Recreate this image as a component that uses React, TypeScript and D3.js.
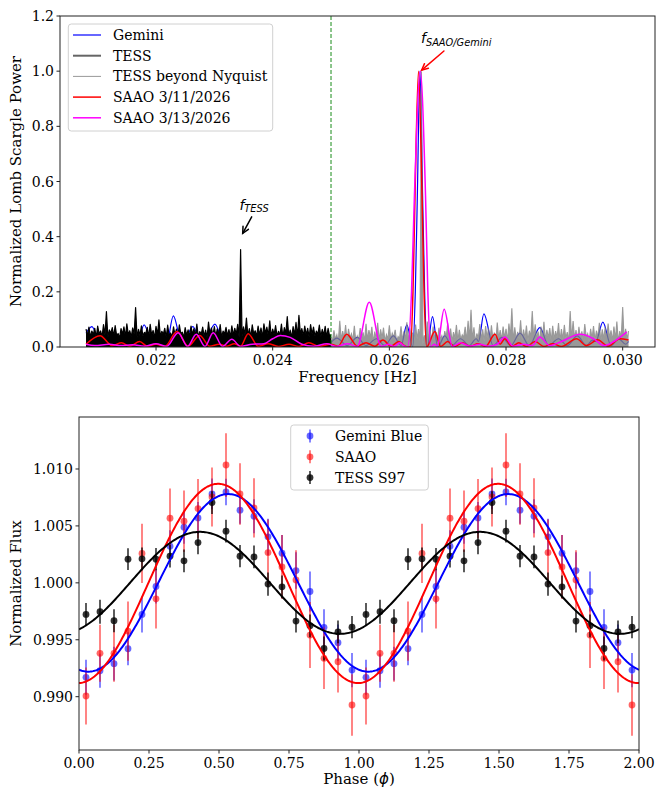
import React from "react";
import * as d3 from "d3";

// ---------- top panel: Lomb-Scargle periodograms ----------
// TESS (below Nyquist): top edge of the dense periodogram, power x 1000, uniform frequency grid
const tessF0 = 0.0208;
const tessStep = 0.000025;
const tessPower = [
  65, 40, 72, 36, 58, 45, 68, 34, 76, 48,
  58, 37, 81, 43, 128, 35, 62, 50, 70, 39,
  78, 41, 49, 32, 67, 46, 73, 38, 84, 44,
  59, 36, 69, 47, 143, 34, 64, 42, 77, 40,
  53, 49, 71, 37, 82, 43, 60, 33, 75, 45,
  98, 38, 57, 46, 68, 35, 79, 41, 51, 36,
  73, 44, 65, 39, 80, 48, 54, 34, 70, 42,
  62, 37, 76, 45, 67, 40, 83, 36, 56, 47,
  72, 39, 61, 34, 90, 46, 69, 41, 74, 38,
  66, 43, 81, 35, 58, 48, 71, 40, 63, 37,
  77, 42, 68, 46, 82, 34, 353, 39, 73, 44,
  105, 41, 67, 36, 80, 47, 59, 38, 76, 43,
  69, 35, 84, 49, 72, 40, 95, 37, 65, 45,
  78, 39, 57, 42, 83, 36, 70, 48, 110, 41,
  61, 34, 74, 44, 89, 38, 115, 46, 67, 40,
  76, 43, 68, 35, 81, 47, 72, 39, 58, 45,
  79, 37, 64, 42, 75, 36, 68, 40, 45,
];

// TESS beyond Nyquist, power x 1000
const nyqF0 = 0.025;
const nyqStep = 0.000025;
const nyqPower = [
  35, 22, 60, 28, 44, 18, 95, 25, 58, 30,
  80, 20, 66, 33, 48, 24, 77, 19, 40, 27,
  69, 31, 53, 21, 84, 26, 61, 34, 73, 17,
  56, 29, 88, 23, 64, 32, 70, 20, 45, 28,
  79, 25, 50, 35, 62, 18, 38, 30, 75, 22,
  57, 27, 90, 19, 68, 33, 52, 24, 81, 29,
  65, 21, 1000, 10, 42, 26, 92, 31, 60, 18,
  74, 30, 55, 23, 70, 28, 41, 20, 58, 34,
  86, 25, 67, 19, 54, 32, 80, 22, 62, 27,
  44, 35, 73, 21, 95, 29, 135, 24, 71, 18,
  49, 31, 83, 26, 64, 20, 76, 33, 68, 23,
  79, 28, 52, 17, 89, 30, 61, 25, 74, 32,
  66, 22, 85, 34, 140, 19, 71, 27, 55, 29,
  97, 24, 63, 31, 78, 21, 59, 35, 130, 26,
  82, 30, 56, 18, 74, 28, 91, 23, 62, 33,
  69, 20, 77, 29, 58, 34, 87, 22, 65, 27,
  80, 31, 54, 19, 130, 26, 94, 32, 61, 24,
  73, 28, 57, 21, 83, 35, 48, 18, 66, 30,
  76, 23, 59, 33, 88, 20, 64, 29, 71, 25,
  85, 32, 60, 22, 74, 27, 92, 19, 58, 31,
  145, 24, 66, 28, 58,
];

// smooth periodograms, [frequency Hz, power] at maxima / minima
const geminiPgram: [number, number][] = [
  [0.0208, 0.05], [0.0209, 0.074], [0.02105, 0.01], [0.02122, 0.05], [0.0214, 0.005],
  [0.02158, 0.045], [0.02168, 0.01], [0.021795, 0.08], [0.02195, 0.005], [0.0221, 0.04],
  [0.02218, 0.01], [0.022297, 0.113], [0.02245, 0.005], [0.02263, 0.074], [0.0228, 0.005],
  [0.02301, 0.083], [0.02318, 0.005], [0.02335, 0.05], [0.02352, 0.005], [0.0237, 0.04],
  [0.02388, 0.005], [0.02405, 0.045], [0.02422, 0.005], [0.0244, 0.05], [0.02458, 0.005],
  [0.02475, 0.04], [0.02492, 0.005], [0.0251, 0.032], [0.02528, 0.005], [0.02545, 0.035],
  [0.0256, 0.005], [0.02578, 0.03], [0.02592, 0.005], [0.02607, 0.04], [0.0262, 0.005],
  [0.0263, 0.08], [0.0264, 0.0], [0.026445, 0.2], [0.02648, 0.55], [0.026525, 1.0],
  [0.02657, 0.55], [0.026605, 0.2], [0.02665, 0.0], [0.02674, 0.11], [0.02683, 0.0],
  [0.02695, 0.04], [0.02707, 0.005], [0.02722, 0.03], [0.02737, 0.005], [0.02749, 0.03],
  [0.02753, 0.02], [0.02762, 0.12], [0.02778, 0.005], [0.02793, 0.035], [0.02808, 0.005],
  [0.02824, 0.05], [0.0284, 0.005], [0.02858, 0.07], [0.02873, 0.005], [0.0289, 0.03],
  [0.02905, 0.005], [0.02922, 0.04], [0.02938, 0.005], [0.02948, 0.025], [0.02954, 0.02],
  [0.02966, 0.09], [0.0298, 0.005], [0.02993, 0.03], [0.03005, 0.01], [0.0301, 0.02],
];

const saao311Pgram: [number, number][] = [
  [0.0208, 0.01], [0.02104, 0.041], [0.02125, 0.005], [0.02141, 0.015], [0.02155, 0.003],
  [0.02172, 0.02], [0.02185, 0.003], [0.022, 0.01], [0.02215, 0.002], [0.02236, 0.056],
  [0.02255, 0.003], [0.02275, 0.042], [0.02292, 0.003], [0.02308, 0.01], [0.02322, 0.003],
  [0.02334, 0.012], [0.02345, 0.003], [0.02358, 0.048], [0.02375, 0.003], [0.02392, 0.012],
  [0.0241, 0.002], [0.02428, 0.01], [0.02445, 0.002], [0.02462, 0.015], [0.0248, 0.002],
  [0.025, 0.01], [0.02512, 0.003], [0.02527, 0.046], [0.02545, 0.003], [0.0256, 0.015],
  [0.02575, 0.003], [0.02589, 0.025], [0.02603, 0.003], [0.02616, 0.02], [0.02628, 0.002],
  [0.02636, 0.0], [0.026405, 0.2], [0.02644, 0.55], [0.0265, 1.0], [0.02656, 0.55],
  [0.026595, 0.2], [0.02664, 0.0], [0.02678, 0.056], [0.02688, 0.002], [0.027, 0.02],
  [0.02712, 0.002], [0.02725, 0.015], [0.02738, 0.002], [0.02752, 0.012], [0.02765, 0.002],
  [0.02781, 0.046], [0.0279, 0.01], [0.02798, 0.03], [0.0281, 0.002], [0.02822, 0.015],
  [0.02835, 0.002], [0.0285, 0.02], [0.02865, 0.002], [0.0288, 0.012], [0.02895, 0.002],
  [0.02921, 0.03], [0.02938, 0.005], [0.02957, 0.026], [0.02975, 0.003], [0.02995, 0.03],
  [0.0301, 0.025],
];

const saao313Pgram: [number, number][] = [
  [0.0208, 0.01], [0.02095, 0.005], [0.0212, 0.01], [0.0214, 0.005], [0.0216, 0.008],
  [0.0218, 0.003], [0.022, 0.012], [0.02218, 0.002], [0.02238, 0.052], [0.02254, 0.002],
  [0.02269, 0.046], [0.02284, 0.002], [0.02298, 0.052], [0.02314, 0.002], [0.0233, 0.028],
  [0.02345, 0.002], [0.02365, 0.01], [0.02385, 0.012], [0.024, 0.03], [0.02413, 0.042],
  [0.0243, 0.035], [0.0245, 0.01], [0.0247, 0.003], [0.02493, 0.012], [0.0251, 0.002],
  [0.02528, 0.012], [0.02545, 0.002], [0.025656, 0.162], [0.02586, 0.002], [0.02598, 0.01],
  [0.02608, 0.002], [0.02618, 0.015], [0.02627, 0.002], [0.02632, 0.0], [0.02638, 0.2],
  [0.02643, 0.55], [0.02653, 1.0], [0.02662, 0.55], [0.02666, 0.2], [0.02671, 0.0],
  [0.02677, 0.01], [0.02682, 0.002], [0.02694, 0.137], [0.02708, 0.002], [0.02722, 0.015],
  [0.02738, 0.003], [0.02755, 0.01], [0.0277, 0.003], [0.02785, 0.01], [0.02798, 0.036],
  [0.02812, 0.003], [0.0283, 0.01], [0.02845, 0.005], [0.02858, 0.036], [0.02875, 0.005],
  [0.02895, 0.02], [0.02927, 0.046], [0.0295, 0.03], [0.02968, 0.005], [0.02985, 0.02],
  [0.03007, 0.055],
];

const nyquistF = 0.025;
const tessPeakNote = { text: [0.02343, 0.497], tail: [0.02364, 0.472], head: [0.023486, 0.412] };
const saaoPeakNote = { text: [0.026543, 1.102], tail: [0.026936, 1.073], head: [0.026554, 1.004] };

// ---------- bottom panel: phase-folded light curves ----------
const phaseBins = [
  0.025, 0.075, 0.125, 0.175, 0.225, 0.275, 0.325, 0.375, 0.425, 0.475,
  0.525, 0.575, 0.625, 0.675, 0.725, 0.775, 0.825, 0.875, 0.925, 0.975,
];
const geminiFlux = [
  0.9917, 0.99228, 0.9929, 0.99421, 0.99723, 0.99968, 1.00322, 1.00489, 1.0057, 1.00781,
  1.00798, 1.00638, 1.00585, 1.00404, 1.0026, 1.00108, 0.99924, 0.99609, 0.99474, 0.99234,
];
const geminiErr = [
  0.00154, 0.0015, 0.00148, 0.00145, 0.0016, 0.0015, 0.0014, 0.00145, 0.0014, 0.00135,
  0.00117, 0.0012, 0.0015, 0.0016, 0.0016, 0.0016, 0.00175, 0.0016, 0.0016, 0.0015,
];
const saaoFlux = [
  0.99006, 0.99381, 0.99381, 0.99576, 1.00258, 0.9986, 1.00568, 1.00541, 1.00652, 1.00754,
  1.01035, 1.00781, 1.00658, 1.00266, 1.0014, 1.00026, 0.99541, 0.99337, 0.99307, 0.98927,
];
const saaoErr = [
  0.0025, 0.0025, 0.0025, 0.0026, 0.0026, 0.0026, 0.0026, 0.0027, 0.0026, 0.0026,
  0.0028, 0.0027, 0.0026, 0.0029, 0.0028, 0.0026, 0.0029, 0.0027, 0.0027, 0.0027,
];
const tessFlux = [
  0.99723, 0.99746, 0.99667, 1.00208, 1.00211, 1.00208, 1.00234, 1.00193, 1.00354, 1.00705,
  1.00454, 1.00234, 1.00228, 0.99989, 0.99965, 0.99664, 0.99623, 0.99424, 0.9957, 0.99611,
];
const tessErr = [
  0.001, 0.00105, 0.001, 0.00095, 0.001, 0.00098, 0.001, 0.001, 0.00102, 0.001,
  0.001, 0.00098, 0.001, 0.00102, 0.001, 0.001, 0.001, 0.00105, 0.001, 0.00098,
];

// sinusoid fits: mean, semi-amplitude, phase of maximum
const geminiFit = { mean: 1.0, amp: 0.0078, peak: 0.533 };
const saaoFit = { mean: 0.99995, amp: 0.00875, peak: 0.497 };
const tessFit = { mean: 1.0, amp: 0.00448, peak: 0.432 };

const serif = "DejaVu Serif";
const sans = "DejaVu Sans";

const xF = d3.scaleLinear().domain([0.020354, 0.030554]).range([60, 655]);
const yP = d3.scaleLinear().domain([0, 1.2]).range([347, 16]);
const xPh = d3.scaleLinear().domain([0, 2]).range([79, 639]);
const yFl = d3.scaleLinear().domain([0.985318, 1.014567]).range([750, 417]);

const pgLine = d3
  .line<[number, number]>()
  .x((d) => xF(d[0]))
  .y((d) => yP(d[1]));
// the dense periodograms are solid below their ragged top edge
const pgArea = d3
  .area<[number, number]>()
  .x((d) => xF(d[0]))
  .y0(yP(0))
  .y1((d) => yP(d[1]));
const smoothLine = d3
  .line<[number, number]>()
  .x((d) => xF(d[0]))
  .y((d) => yP(d[1]))
  .curve(d3.curveMonotoneX);

const tessSeries: [number, number][] = tessPower.map((p, i) => [tessF0 + i * tessStep, p / 1000]);
const nyqSeries: [number, number][] = nyqPower.map((p, i) => [nyqF0 + i * nyqStep, p / 1000]);

const fitGrid = d3.range(0, 2.0001, 0.005);
const fitPath = (fit: { mean: number; amp: number; peak: number }) =>
  d3
    .line<number>()
    .x((ph) => xPh(ph))
    .y((ph) => yFl(fit.mean + fit.amp * Math.cos(2 * Math.PI * (ph - fit.peak))))(fitGrid) || "";

function Arrow({ x1, y1, x2, y2, color }: { x1: number; y1: number; x2: number; y2: number; color: string }) {
  const a = Math.atan2(y2 - y1, x2 - x1);
  const L = 7;
  const w = 0.45;
  const p1 = [x2 - L * Math.cos(a - w), y2 - L * Math.sin(a - w)];
  const p2 = [x2 - L * Math.cos(a + w), y2 - L * Math.sin(a + w)];
  return (
    <g stroke={color} strokeWidth={1.5} fill="none" strokeLinecap="round">
      <line x1={x1} y1={y1} x2={x2} y2={y2} />
      <polyline points={`${p1[0]},${p1[1]} ${x2},${y2} ${p2[0]},${p2[1]}`} />
    </g>
  );
}

function PointSeries({ flux, err, color, op }: { flux: number[]; err: number[]; color: string; op: number }) {
  const pts = [0, 1].flatMap((k) => phaseBins.map((ph, i) => ({ ph: ph + k, v: flux[i], e: err[i] })));
  return (
    <g>
      {pts.map((d, i) => (
        <g key={i}>
          <line x1={xPh(d.ph)} x2={xPh(d.ph)} y1={yFl(d.v - d.e)} y2={yFl(d.v + d.e)} stroke={color} strokeWidth={1.6} opacity={op} />
          <circle cx={xPh(d.ph)} cy={yFl(d.v)} r={3.4} fill={color} opacity={op} />
        </g>
      ))}
    </g>
  );
}

export default function App() {
  const topBox = { l: 60, r: 655, t: 16, b: 347 };
  const botBox = { l: 79, r: 639, t: 417, b: 750 };
  const fTicks = [0.022, 0.024, 0.026, 0.028, 0.03];
  const pTicks = [0, 0.2, 0.4, 0.6, 0.8, 1.0, 1.2];
  const phTicks = d3.range(0, 2.001, 0.25);
  const flTicks = [0.99, 0.995, 1.0, 1.005, 1.01];

  const topLegend = [
    { label: "Gemini", color: "#0000ff", w: 1.2, op: 1 },
    { label: "TESS", color: "#000000", w: 2, op: 0.6 },
    { label: "TESS beyond Nyquist", color: "#808080", w: 1, op: 0.8 },
    { label: "SAAO 3/11/2026", color: "#ff0000", w: 1.5, op: 1 },
    { label: "SAAO 3/13/2026", color: "#ff00ff", w: 1.5, op: 1 },
  ];
  const botLegend = [
    { label: "Gemini Blue", color: "#0000ff", op: 0.6 },
    { label: "SAAO", color: "#ff0000", op: 0.6 },
    { label: "TESS S97", color: "#000000", op: 0.8 },
  ];

  return (
    <svg width={665} height={787} style={{ position: "absolute", left: 0, top: 0 }} fontFamily={serif}>
      <rect width={665} height={787} fill="#fff" />
      <defs>
        <clipPath id="clipTop">
          <rect x={topBox.l} y={topBox.t} width={topBox.r - topBox.l} height={topBox.b - topBox.t} />
        </clipPath>
        <clipPath id="clipBot">
          <rect x={botBox.l} y={botBox.t} width={botBox.r - botBox.l} height={botBox.b - botBox.t} />
        </clipPath>
      </defs>

      {/* ---------------- top panel ---------------- */}
      <g clipPath="url(#clipTop)">
        <path d={smoothLine(geminiPgram) || ""} fill="none" stroke="#0000ff" strokeWidth={1.2} />
        <g>
          <path d={pgArea(tessSeries) || ""} fill="#000" />
          <path d={pgLine(tessSeries) || ""} fill="none" stroke="#000" strokeWidth={1.2} strokeLinejoin="round" />
        </g>
        <g opacity={0.8}>
          <path d={pgArea(nyqSeries) || ""} fill="#808080" />
          <path d={pgLine(nyqSeries) || ""} fill="none" stroke="#808080" strokeWidth={1.1} />
        </g>
        <path d={smoothLine(saao311Pgram) || ""} fill="none" stroke="#ff0000" strokeWidth={1.5} />
        <path d={smoothLine(saao313Pgram) || ""} fill="none" stroke="#ff00ff" strokeWidth={1.5} />
        <line x1={xF(nyquistF)} x2={xF(nyquistF)} y1={topBox.t} y2={topBox.b} stroke="green" strokeWidth={1.2} strokeDasharray="4,2" opacity={0.75} />
      </g>
      <rect x={topBox.l} y={topBox.t} width={topBox.r - topBox.l} height={topBox.b - topBox.t} fill="none" stroke="#222" strokeWidth={1} />
      {fTicks.map((t) => (
        <g key={t}>
          <line x1={xF(t)} x2={xF(t)} y1={topBox.b} y2={topBox.b + 3.5} stroke="#222" />
          <text x={xF(t)} y={topBox.b + 18} fontSize={14} textAnchor="middle">{d3.format(".3f")(t)}</text>
        </g>
      ))}
      {pTicks.map((t) => (
        <g key={t}>
          <line x1={topBox.l - 3.5} x2={topBox.l} y1={yP(t)} y2={yP(t)} stroke="#222" />
          <text x={topBox.l - 6} y={yP(t) + 5} fontSize={14} textAnchor="end">{d3.format(".1f")(t)}</text>
        </g>
      ))}
      <text x={(topBox.l + topBox.r) / 2} y={382} fontSize={15} textAnchor="middle">Frequency [Hz]</text>
      <text transform={`translate(21,${(topBox.t + topBox.b) / 2}) rotate(-90)`} fontSize={15} textAnchor="middle">
        Normalized Lomb Scargle Power
      </text>

      {/* annotations */}
      <text x={xF(tessPeakNote.text[0])} y={yP(tessPeakNote.text[1])} fontFamily={sans} fontStyle="italic" fontSize={14}>
        f<tspan fontSize={9.8} dy={2.5}>TESS</tspan>
      </text>
      <Arrow x1={xF(tessPeakNote.tail[0])} y1={yP(tessPeakNote.tail[1])} x2={xF(tessPeakNote.head[0])} y2={yP(tessPeakNote.head[1])} color="#000" />
      <text x={xF(saaoPeakNote.text[0])} y={yP(saaoPeakNote.text[1])} fontFamily={sans} fontStyle="italic" fontSize={14}>
        f<tspan fontSize={9.8} dy={2.5}>SAAO/Gemini</tspan>
      </text>
      <Arrow x1={xF(saaoPeakNote.tail[0])} y1={yP(saaoPeakNote.tail[1])} x2={xF(saaoPeakNote.head[0])} y2={yP(saaoPeakNote.head[1])} color="#ff0000" />

      {/* top legend */}
      <rect x={68.3} y={24} width={204.4} height={107} rx={3} fill="#fff" fillOpacity={0.8} stroke="#d0d0d0" />
      {topLegend.map((d, i) => {
        const y = 35 + i * 20.7;
        return (
          <g key={d.label}>
            <line x1={73} x2={101} y1={y} y2={y} stroke={d.color} strokeWidth={d.w} opacity={d.op} />
            <text x={113} y={y + 5} fontSize={14}>{d.label}</text>
          </g>
        );
      })}

      {/* ---------------- bottom panel ---------------- */}
      <g clipPath="url(#clipBot)">
        <PointSeries flux={geminiFlux} err={geminiErr} color="#0000ff" op={0.6} />
        <PointSeries flux={saaoFlux} err={saaoErr} color="#ff0000" op={0.6} />
        <PointSeries flux={tessFlux} err={tessErr} color="#000000" op={0.8} />
        <path d={fitPath(geminiFit)} fill="none" stroke="#0000ff" strokeWidth={2} />
        <path d={fitPath(saaoFit)} fill="none" stroke="#ff0000" strokeWidth={2} />
        <path d={fitPath(tessFit)} fill="none" stroke="#000000" strokeWidth={2} />
      </g>
      <rect x={botBox.l} y={botBox.t} width={botBox.r - botBox.l} height={botBox.b - botBox.t} fill="none" stroke="#222" strokeWidth={1} />
      {phTicks.map((t) => (
        <g key={t}>
          <line x1={xPh(t)} x2={xPh(t)} y1={botBox.b} y2={botBox.b + 3.5} stroke="#222" />
          <text x={xPh(t)} y={botBox.b + 17.5} fontSize={14} textAnchor="middle">{d3.format(".2f")(t)}</text>
        </g>
      ))}
      {flTicks.map((t) => (
        <g key={t}>
          <line x1={botBox.l - 3.5} x2={botBox.l} y1={yFl(t)} y2={yFl(t)} stroke="#222" />
          <text x={botBox.l - 6} y={yFl(t) + 5} fontSize={14} textAnchor="end">{d3.format(".3f")(t)}</text>
        </g>
      ))}
      <text x={(botBox.l + botBox.r) / 2} y={784} fontSize={15} textAnchor="middle">
        Phase (<tspan fontFamily={sans} fontStyle="italic">ϕ</tspan>)
      </text>
      <text transform={`translate(21,${(botBox.t + botBox.b) / 2}) rotate(-90)`} fontSize={15} textAnchor="middle">
        Normalized Flux
      </text>

      {/* bottom legend */}
      <rect x={290.7} y={425} width={137.6} height={65} rx={3} fill="#fff" fillOpacity={0.8} stroke="#d0d0d0" />
      {botLegend.map((d, i) => {
        const y = 436 + i * 20.8;
        return (
          <g key={d.label}>
            <line x1={310} x2={310} y1={y - 6.5} y2={y + 6.5} stroke={d.color} strokeWidth={1.6} opacity={d.op} />
            <circle cx={310} cy={y} r={3.4} fill={d.color} opacity={d.op} />
            <text x={335} y={y + 5} fontSize={14}>{d.label}</text>
          </g>
        );
      })}
    </svg>
  );
}
